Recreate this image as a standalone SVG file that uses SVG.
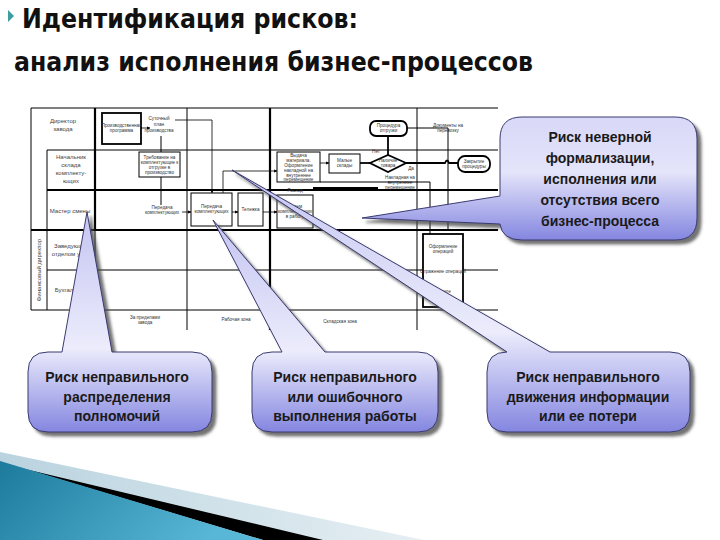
<svg xmlns="http://www.w3.org/2000/svg" width="720" height="540" viewBox="0 0 720 540">
<style>
.ttl{font-family:"DejaVu Sans","Liberation Sans",sans-serif;font-weight:bold;font-size:27px;fill:#111}
.sm{font-family:"Liberation Sans",Arial,sans-serif;font-size:4.6px;fill:#333;text-anchor:middle}
.lb{font-family:"Liberation Sans",Arial,sans-serif;font-size:6px;fill:#444;text-anchor:middle}
.ct{font-family:"Liberation Sans",Arial,sans-serif;font-weight:bold;font-size:14px;fill:#1a1a1a;text-anchor:middle}
.g{stroke:#000;fill:none;stroke-width:1}
.gt{stroke:#000;fill:none;stroke-width:2.2}
.bx{stroke:#000;fill:#fff;stroke-width:1}
.bxt{stroke:#000;fill:#fff;stroke-width:1.8}
.cn{stroke:#000;fill:none;stroke-width:0.8;marker-end:url(#ar)}
.cnt{stroke:#000;fill:none;stroke-width:1.8}
.co{stroke:#3a3a70;stroke-width:1;filter:url(#sh)}
</style>
<defs>
<marker id="ar" viewBox="0 0 6 6" refX="5.5" refY="3" markerWidth="4" markerHeight="4" orient="auto"><path d="M0,0 L6,3 L0,6 Z" fill="#000"/></marker>
<filter id="sh" x="-10%" y="-10%" width="125%" height="125%"><feDropShadow dx="4" dy="4" stdDeviation="1.8" flood-color="#444" flood-opacity="0.75"/></filter>
<linearGradient id="gb" x1="0" y1="0" x2="0" y2="1"><stop offset="0" stop-color="#c4c4f2"/><stop offset="0.62" stop-color="#ececfc"/><stop offset="1" stop-color="#8486e0"/></linearGradient>
<linearGradient id="gt" x1="0" y1="0" x2="0" y2="1"><stop offset="0" stop-color="#d8d8f8"/><stop offset="0.45" stop-color="#e4e4fa"/><stop offset="1" stop-color="#8486e0"/></linearGradient>
<linearGradient id="blue" x1="0" y1="0" x2="1" y2="0.3"><stop offset="0" stop-color="#1c7a9c"/><stop offset="1" stop-color="#58b6d6"/></linearGradient>
<linearGradient id="lite" x1="0" y1="0" x2="1" y2="0"><stop offset="0" stop-color="#b9d3df"/><stop offset="1" stop-color="#e6eff3"/></linearGradient>
</defs>
<rect width="720" height="540" fill="#fff"/>

<g id="title">
<path d="M8,10 L14,16 L8,22 Z" fill="#3a9ea2"/>
<text class="ttl" x="22" y="28" textLength="336" lengthAdjust="spacingAndGlyphs">Идентификация рисков:</text>
<text class="ttl" x="14" y="71" textLength="519" lengthAdjust="spacingAndGlyphs">анализ исполнения бизнес-процессов</text>
</g>

<g id="grid">
<path class="g" d="M31,108 H498 M31,108 V310 M47,150 V310 M47,150 H498 M47,270 H498 M31,310 H498 M95,230 V310 M187,108 V330 M417,108 V330"/>
<path class="gt" d="M47,190 H498 M31,230 H498 M95,108 V230 M270,108 V330"/>
</g>

<g id="lane-labels">
<text class="lb" x="63" y="123">Директор</text>
<text class="lb" x="63" y="131">завода</text>
<text class="lb" x="71" y="159">Начальник</text>
<text class="lb" x="71" y="167">склада</text>
<text class="lb" x="71" y="175">комплекту-</text>
<text class="lb" x="71" y="183">ющих</text>
<text class="lb" x="70" y="213">Мастер смены</text>
<text class="lb" x="72" y="248">Заведующий</text>
<text class="lb" x="72" y="256">отделом учета</text>
<text class="lb" x="72" y="292">Бухгалтерия</text>
<text class="lb" x="41" y="270" transform="rotate(-90 41 270)">Финансовый директор</text>
<text class="sm" x="145" y="319">За пределами</text>
<text class="sm" x="145" y="324">завода</text>
<text class="sm" x="236" y="321">Рабочая зона</text>
<text class="sm" x="340" y="323">Складская зона</text>
</g>

<g id="n-plan"><rect class="bxt" x="102" y="113" width="39" height="31"/><text class="sm" x="121.5" y="127">Производственная</text><text class="sm" x="121.5" y="132">программа</text></g>
<g id="n-daily"><text class="sm" x="159" y="120">Суточный</text><text class="sm" x="159" y="126">план</text><text class="sm" x="159" y="132">производства</text></g>
<g id="n-req"><rect class="bx" x="139" y="152" width="41" height="25"/><text class="sm" x="159.5" y="159">Требование на</text><text class="sm" x="159.5" y="164">комплектующие к</text><text class="sm" x="159.5" y="169">отгрузке в</text><text class="sm" x="159.5" y="174">производство</text></g>
<g id="n-transfer-t"><text class="sm" x="162" y="209">Передача</text><text class="sm" x="162" y="214">комплектующих</text></g>
<g id="n-transfer"><rect class="bx" x="191" y="193" width="41" height="33"/><text class="sm" x="211.5" y="208">Передача</text><text class="sm" x="211.5" y="213">комплектующих</text></g>
<g id="n-cart"><rect class="bx" x="238" y="193" width="25" height="33"/><text class="sm" x="250.5" y="211">Тележка</text></g>
<g id="n-issue"><rect class="bx" x="277" y="152" width="43" height="30"/><text class="sm" x="298.5" y="157">Выдача</text><text class="sm" x="298.5" y="162">материала.</text><text class="sm" x="298.5" y="167">Оформление</text><text class="sm" x="298.5" y="172">накладной на</text><text class="sm" x="298.5" y="177">внутреннее</text><text class="sm" x="298.5" y="181">перемещение</text></g>
<g id="n-stock"><rect class="bx" x="329" y="154" width="31" height="19"/><text class="sm" x="344.5" y="162">Малые</text><text class="sm" x="344.5" y="167">склады</text></g>
<g id="n-check"><path d="M370,163 L388,155 L406,163 L388,172 Z" class="bxt" stroke-width="1.5"/><text class="sm" x="388" y="162">Наличие</text><text class="sm" x="388" y="167">товара</text><text class="sm" x="376" y="153">Нет</text><text class="sm" x="411" y="170">Да</text></g>
<g id="n-ship"><rect class="bxt" x="370" y="121" width="37" height="15" rx="6"/><text class="sm" x="388.5" y="127">Процедура</text><text class="sm" x="388.5" y="132">отгрузки</text></g>
<g id="n-docs"><text class="sm" x="448" y="127">Документы на</text><text class="sm" x="448" y="132">перевозку</text></g>
<g id="n-close"><rect class="bxt" x="458" y="156" width="32" height="16" rx="7"/><text class="sm" x="474" y="163">Закрытие</text><text class="sm" x="474" y="168">процедуры</text></g>
<g id="n-waybill"><text class="sm" x="400" y="179">Накладная на</text><text class="sm" x="400" y="184">внутреннее</text><text class="sm" x="400" y="189">перемещение</text></g>
<g id="n-receive"><text class="sm" x="295" y="192">Расход</text><rect class="bx" x="277" y="195" width="36" height="33"/><text class="sm" x="295" y="208">Прием</text><text class="sm" x="295" y="213">комплектующих</text><text class="sm" x="295" y="218">в работу</text></g>
<g id="n-ops"><rect class="bxt" x="423" y="234" width="40" height="73"/><text class="sm" x="443" y="248">Оформление</text><text class="sm" x="443" y="253">операций</text><text class="sm" x="443" y="273">Отражение операций</text><text class="sm" x="443" y="293">в учете</text></g>

<g id="connectors">
<path class="cn" d="M141,128 H150"/>
<path class="cn" d="M175,120 H212 V193"/>
<path class="g" d="M161,136 V152"/>
<path class="g" d="M161,177 V205"/>
<path class="cn" d="M182,212 H191"/>
<path class="cn" d="M232,212 H238"/>
<path class="cn" d="M263,212 H277"/>
<path class="cn" d="M223,193 V171 H277"/>
<path class="cn" d="M320,163 H329"/>
<path class="cnt" d="M360,163 H370"/>
<path class="cnt" d="M388,155 V136"/>
<path class="cnt" d="M406,163 H445 Q447,158 449,163 H458"/>
<path class="g" d="M407,128 H448 V230"/>
<path class="g" d="M320,182 H430 V234"/>
<path class="cnt" d="M313,188 H378"/>
</g>

<g id="callout-top">
<path class="co" fill="url(#gt)" d="M522,117 H675 Q697,117 697,139 V218 Q697,240 675,240 H522 Q502,240 500,224 L362,218 L500,196 V139 Q500,117 522,117 Z"/>
<text class="ct" x="600" y="142">Риск неверной</text>
<text class="ct" x="600" y="163">формализации,</text>
<text class="ct" x="600" y="184">исполнения или</text>
<text class="ct" x="600" y="205">отсутствия всего</text>
<text class="ct" x="600" y="226">бизнес-процесса</text>
</g>

<g id="callout-a">
<path class="co" fill="url(#gb)" d="M48,352 H62 L87,212 L112,352 H192 Q212,352 212,372 V412 Q212,432 192,432 H48 Q28,432 28,412 V372 Q28,352 48,352 Z"/>
<text class="ct" x="117" y="382">Риск неправильного</text>
<text class="ct" x="117" y="402">распределения</text>
<text class="ct" x="117" y="421">полномочий</text>
</g>

<g id="callout-b">
<path class="co" fill="url(#gb)" d="M272,352 H282 L213,220 L325,352 H418 Q438,352 438,372 V412 Q438,432 418,432 H272 Q252,432 252,412 V372 Q252,352 272,352 Z"/>
<text class="ct" x="345" y="382">Риск неправильного</text>
<text class="ct" x="345" y="402">или ошибочного</text>
<text class="ct" x="345" y="421">выполнения работы</text>
</g>

<g id="callout-c">
<path class="co" fill="url(#gb)" d="M487,372 Q487,352 507,352 L232,170 L550,352 H670 Q690,352 690,372 V412 Q690,432 670,432 H507 Q487,432 487,412 Z"/>
<text class="ct" x="588" y="382">Риск неправильного</text>
<text class="ct" x="588" y="402">движения информации</text>
<text class="ct" x="588" y="421">или ее потери</text>
</g>

<g id="deco">
<path d="M0,452 L424,540 L0,540 Z" fill="url(#lite)"/>
<path d="M25,469 L323,540 L263,540 Z" fill="#000"/>
<path d="M0,461 L263,540 L0,540 Z" fill="url(#blue)"/>
</g>
</svg>
